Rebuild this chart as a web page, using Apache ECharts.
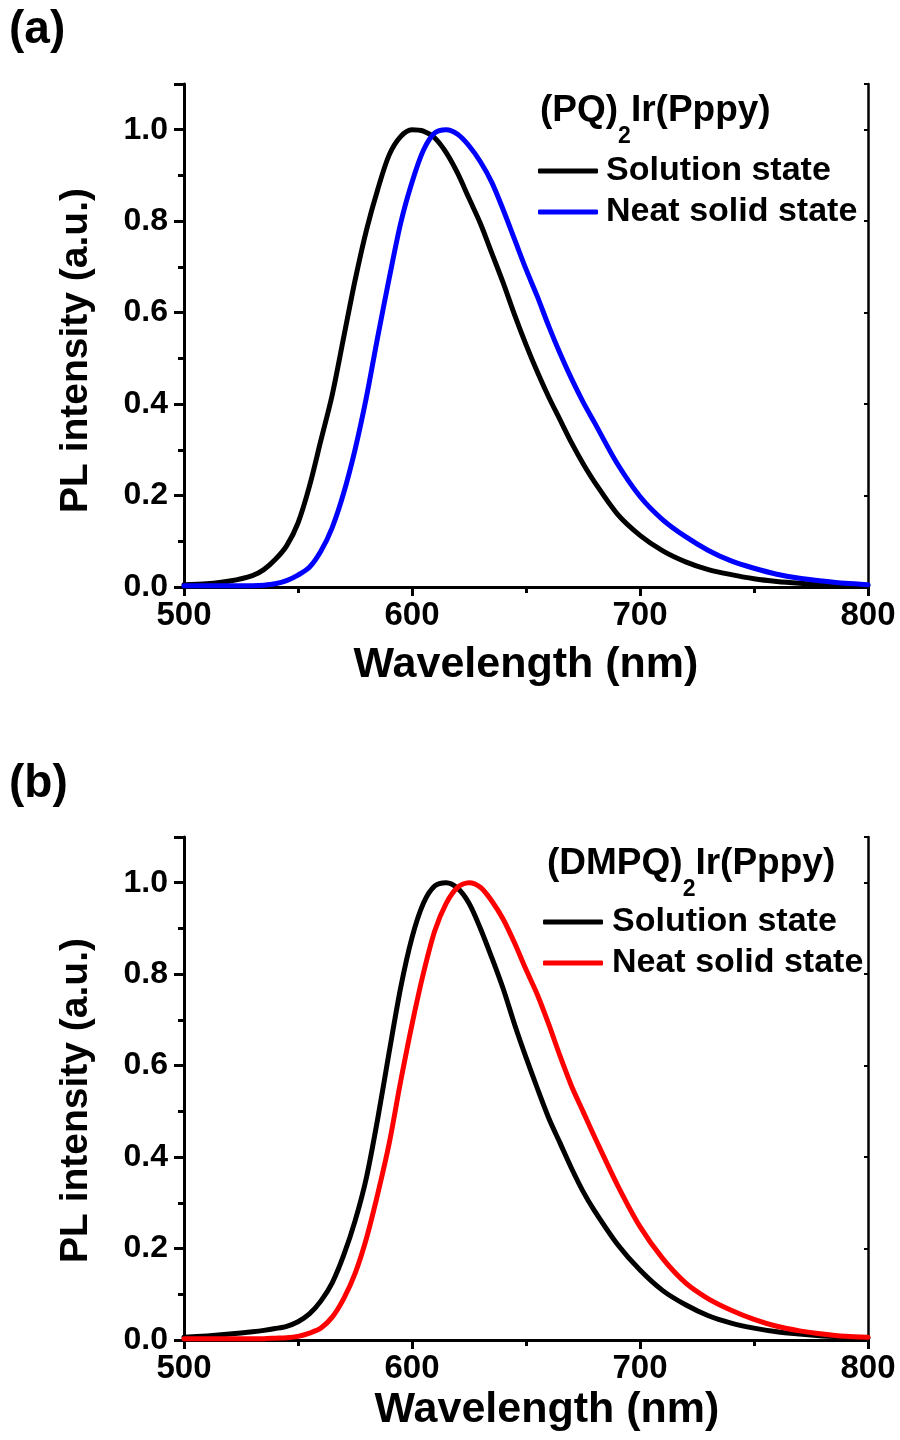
<!DOCTYPE html>
<html>
<head>
<meta charset="utf-8">
<script src="https://cdn.jsdelivr.net/npm/echarts@6/dist/echarts.min.js"></script>
<style>
  html, body { margin: 0; padding: 0; background: #fff; }
  #chart { width: 900px; height: 1440px; }
</style>
</head>
<body>
<div id="chart"></div>
<script>
// ---------- data (wavelength nm, normalized PL intensity) ----------
const seriesNames = ['Solution state', 'Neat solid state'];
const compoundA = ['(PQ)', '2', 'Ir(Pppy)'];
const compoundB = ['(DMPQ)', '2', 'Ir(Pppy)'];
const xTitle = 'Wavelength (nm)';
const yTitle = 'PL intensity (a.u.)';

const wavelengths = [500,510,520,530,535,540,545,550,555,560,565,570,575,580,585,590,595,600,
  605,610,615,620,625,630,635,640,645,650,655,660,665,670,675,680,690,700,710,720,730,740,750,760,770,780,790,800];

const solutionA = [0.005,0.007,0.013,0.025,0.038,0.06,0.09,0.14,0.22,0.32,0.42,0.545,0.67,0.78,0.87,0.945,0.985,1.0,
  0.997,0.982,0.95,0.905,0.85,0.795,0.73,0.665,0.595,0.53,0.47,0.415,0.365,0.315,0.27,0.23,0.16,0.113,0.079,0.055,0.038,0.027,0.018,0.012,0.008,0.005,0.004,0.003];
const neatA = [0.003,0.003,0.003,0.003,0.004,0.007,0.014,0.026,0.043,0.078,0.13,0.205,0.30,0.415,0.548,0.675,0.795,0.885,
  0.955,0.993,1.0,0.99,0.965,0.93,0.885,0.825,0.76,0.695,0.635,0.57,0.51,0.455,0.405,0.36,0.27,0.198,0.147,0.11,0.08,0.057,0.041,0.028,0.019,0.013,0.008,0.005];
const solutionB = [0.006,0.009,0.013,0.018,0.021,0.025,0.03,0.04,0.057,0.085,0.125,0.185,0.26,0.355,0.485,0.63,0.77,0.88,
  0.955,0.993,1.0,0.988,0.955,0.9,0.836,0.768,0.69,0.618,0.55,0.485,0.43,0.375,0.325,0.283,0.21,0.153,0.108,0.077,0.053,0.037,0.026,0.018,0.013,0.009,0.006,0.004];
const neatB = [0.003,0.003,0.003,0.003,0.003,0.004,0.005,0.008,0.015,0.026,0.05,0.09,0.145,0.222,0.32,0.43,0.565,0.69,
  0.802,0.895,0.955,0.99,1.0,0.99,0.96,0.92,0.868,0.81,0.755,0.69,0.62,0.555,0.5,0.445,0.34,0.248,0.178,0.125,0.09,0.065,0.045,0.03,0.02,0.013,0.008,0.006];

// ---------- styling ----------
const FONT = "'Liberation Sans',Arial,Helvetica,sans-serif";
const BLACK = '#000000';
const grids = [
  { left: 184, top: 84, width: 684, height: 503 },
  { left: 184, top: 837, width: 684, height: 503 }
];

function pairs(xs, ys) { return xs.map((x, i) => [x, ys[i]]); }

function xAxesFor(gi, nameGap, namePad) {
  return [
    {
      type: 'value', gridIndex: gi, position: 'bottom', min: 500, max: 800, interval: 100,
      axisLine: { show: true, lineStyle: { color: BLACK, width: 3 } },
      axisTick: { show: true, length: 9, lineStyle: { color: BLACK, width: 3 } },
      minorTick: { show: true, splitNumber: 2, length: 6, lineStyle: { color: BLACK, width: 3 } },
      splitLine: { show: false }, minorSplitLine: { show: false },
      axisLabel: { margin: 12, color: BLACK, fontFamily: FONT, fontWeight: 'bold', fontSize: 33 },
      name: xTitle, nameLocation: 'middle', nameGap: nameGap,
      nameTextStyle: { color: BLACK, fontFamily: FONT, fontWeight: 'bold', fontSize: 43, padding: namePad }
    },
    {
      type: 'value', gridIndex: gi, position: 'top', min: 500, max: 800, interval: 100,
      axisLine: { show: true, lineStyle: { color: BLACK, width: 2.5 } },
      axisTick: { show: true, inside: true, length: 4, lineStyle: { color: BLACK, width: 2 } },
      minorTick: { show: true, splitNumber: 2, length: 3, lineStyle: { color: BLACK, width: 2 } },
      splitLine: { show: false }, axisLabel: { show: false }
    }
  ];
}
function yAxesFor(gi, namePad) {
  return [
    {
      type: 'value', gridIndex: gi, position: 'left', min: 0, max: 1.1, interval: 0.2,
      axisLine: { show: true, lineStyle: { color: BLACK, width: 3 } },
      axisTick: { show: true, length: 10, lineStyle: { color: BLACK, width: 3 } },
      splitLine: { show: false },
      axisLabel: {
        margin: 16, color: BLACK, fontFamily: FONT, fontWeight: 'bold', fontSize: 32,
        formatter: v => (v > 1.05 ? '' : v.toFixed(1))
      },
      name: yTitle, nameLocation: 'middle', nameGap: 88, nameRotate: 90,
      nameTextStyle: { color: BLACK, fontFamily: FONT, fontWeight: 'bold', fontSize: 39, padding: namePad }
    },
    {
      type: 'value', gridIndex: gi, position: 'left', min: 0, max: 1.1, interval: 0.1,
      axisLine: { show: false },
      axisTick: { show: true, length: 6, lineStyle: { color: BLACK, width: 3 } },
      splitLine: { show: false }, axisLabel: { show: false }
    },
    {
      type: 'value', gridIndex: gi, position: 'right', min: 0, max: 1.1, interval: 0.2,
      axisLine: { show: true, lineStyle: { color: BLACK, width: 2.5 } },
      axisTick: { show: true, inside: true, length: 4, lineStyle: { color: BLACK, width: 2 } },
      splitLine: { show: false }, axisLabel: { show: false }
    }
  ];
}

function lineSeries(name, ys, color, xi, yi) {
  return {
    type: 'line', name: name, data: pairs(wavelengths, ys), xAxisIndex: xi, yAxisIndex: yi,
    symbol: 'none', smooth: 0.3, clip: true,
    lineStyle: { color: color, width: 5, cap: 'round', join: 'round' },
    itemStyle: { color: color }, z: 3
  };
}

function compoundTitle(parts, left, top) {
  return {
    left: left, top: top, padding: 0,
    text: '{a|' + parts[0] + '}{s|' + parts[1] + '}{a|' + parts[2] + '}',
    textStyle: {
      rich: {
        a: { fontFamily: FONT, fontWeight: 'bold', fontSize: 37, color: BLACK, lineHeight: 44, verticalAlign: 'top' },
        s: { fontFamily: FONT, fontWeight: 'bold', fontSize: 23, color: BLACK, lineHeight: 20, verticalAlign: 'top', padding: [33, 0, 0, 0] }
      }
    }
  };
}

function legendFor(colorNeat, left, top, textPad) {
  return {
    orient: 'vertical', left: left, top: top, padding: 0,
    itemWidth: 60, itemHeight: 5, itemGap: 1,
    icon: 'roundRect',
    textStyle: { color: BLACK, fontFamily: FONT, fontWeight: 'bold', fontSize: 34, lineHeight: 40, padding: [0, 0, 0, textPad] },
    selectedMode: false,
    data: [
      { name: seriesNames[0], itemStyle: { color: BLACK, borderWidth: 0 } },
      { name: seriesNames[1], itemStyle: { color: colorNeat, borderWidth: 0 } }
    ]
  };
}

const option = {
  backgroundColor: '#ffffff',
  animation: false,
  title: [
    { text: '(a)', left: 9, top: 7, padding: 0, textStyle: { fontFamily: FONT, fontWeight: 'bold', fontSize: 46, color: BLACK } },
    { text: '(b)', left: 9, top: 761, padding: 0, textStyle: { fontFamily: FONT, fontWeight: 'bold', fontSize: 46, color: BLACK } },
    compoundTitle(compoundA, 540, 92),
    compoundTitle(compoundB, 547, 845)
  ],
  legend: [
    legendFor('#0000ff', 538, 151, 3),
    legendFor('#ff0000', 543, 902, 4)
  ],
  grid: grids,
  xAxis: [].concat(xAxesFor(0, 57, [0, 0, 0, 0]), xAxesFor(1, 49, [0, 0, 0, 42])),
  yAxis: [].concat(yAxesFor(0, [0, 30, 0, 0]), yAxesFor(1, [0, 24, 0, 0])),
  series: [
    lineSeries(seriesNames[0], solutionA, BLACK, 0, 0),
    lineSeries(seriesNames[1], neatA, '#0000ff', 0, 0),
    lineSeries(seriesNames[0], solutionB, BLACK, 2, 3),
    lineSeries(seriesNames[1], neatB, '#ff0000', 2, 3)
  ]
};

const chart = echarts.init(document.getElementById('chart'), null, { renderer: 'canvas' });
chart.setOption(option);
</script>
</body>
</html>
